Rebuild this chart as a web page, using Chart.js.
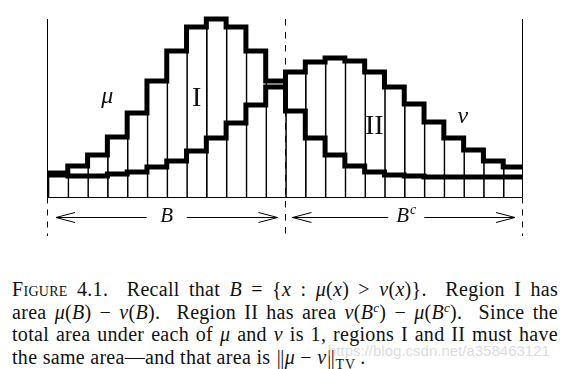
<!DOCTYPE html>
<html>
<head>
<meta charset="utf-8">
<script src="https://cdn.jsdelivr.net/npm/chart.js@4"></script>
<style>
  html, body { margin: 0; padding: 0; background: #fff; }
  body { width: 568px; height: 369px; position: relative; overflow: hidden; }
  #fig { position: absolute; left: 0; top: 0; }
  #caption {
    position: absolute; left: 12px; top: 278px; width: 546px;
    font: 20px 'Liberation Serif', serif; line-height: 22.5px; color: #111;
    letter-spacing: 0.3px;
  }
  #caption div { text-align: justify; text-align-last: justify; }
  #caption div.last { text-align: left; text-align-last: left; }
  .sc { font-variant: small-caps; }
  .norm { letter-spacing: -0.5px; margin: 0 1px; }
  sup { font-size: 13px; vertical-align: 7px; line-height: 0; }
  sub { font-size: 14px; vertical-align: -5px; line-height: 0; font-style: normal; letter-spacing: 1px; }
  #mark {
    position: absolute; left: 328px; top: 342px;
    font: 15px 'Liberation Sans', sans-serif; color: rgba(200, 200, 200, 0.65);
  }
</style>
</head>
<body>
<canvas id="fig" width="568" height="245"></canvas>
<div id="caption">
  <div><span class="sc">Figure</span> 4.1.&nbsp; Recall that <i>B</i> = {<i>x</i> : <i>μ</i>(<i>x</i>) &gt; <i>ν</i>(<i>x</i>)}.&nbsp; Region I has</div>
  <div>area <i>μ</i>(<i>B</i>) − <i>ν</i>(<i>B</i>).&nbsp; Region II has area <i>ν</i>(<i>B<sup>c</sup></i>) − <i>μ</i>(<i>B<sup>c</sup></i>).&nbsp; Since the</div>
  <div>total area under each of <i>μ</i> and <i>ν</i> is 1, regions I and II must have</div>
  <div class="last">the same area—and that area is&nbsp;<span class="norm">||</span><i>μ</i>&nbsp;−&nbsp;<i>ν</i><span class="norm">||</span><sub>TV</sub>&thinsp;.</div>
</div>
<div id="mark">https://blog.csdn.net/a358463121</div>
<script>
// States x = 0..23, first 12 make up B, the rest B^c
const states = [0, 1, 2, 3, 4, 5, 6, 7, 8, 9, 10, 11, 12, 13, 14, 15, 16, 17, 18, 19, 20, 21, 22, 23];
const splitAt = 12;

// Heights (arbitrary units, same for both)
const mu = [24, 31, 42, 60, 84, 116, 146, 170, 178, 170, 146, 116, 86, 59, 42, 31, 25, 22, 21, 20, 20, 20, 20, 20];
const nu = [22, 21, 21, 23, 25, 30, 36, 46, 59, 74, 92, 110, 125, 135, 139, 136, 125, 110, 93, 75, 59, 47, 36, 30];

// step line needs one extra point to close the last bin
function stepPoints(values) {
    const pts = values.map((v, i) => ({ x: states[i], y: v }));
    pts.push({ x: states.length, y: values[values.length - 1] });
    return pts;
}

// thin bin dividers reach up to the higher curve
const upper = mu.map((v, i) => Math.max(v, nu[i]));

function drawArrow(ctx, xa, xb, yy, mid, half) {
    ctx.beginPath();
    ctx.moveTo(xa, yy); ctx.lineTo(mid - half, yy);
    ctx.moveTo(mid + half, yy); ctx.lineTo(xb, yy);
    // open heads
    ctx.moveTo(xa + 19, yy - 5); ctx.lineTo(xa, yy); ctx.lineTo(xa + 19, yy + 5);
    ctx.moveTo(xb - 19, yy - 5); ctx.lineTo(xb, yy); ctx.lineTo(xb - 19, yy + 5);
    ctx.stroke();
}

const figurePlugin = {
    id: 'figure',
    beforeDatasetsDraw(chart) {
        const { ctx, scales: { x, y } } = chart;
        const cx = v => Math.round(x.getPixelForValue(v)) - 0.5;
        const top = y.getPixelForValue(178);
        const base = Math.round(y.getPixelForValue(0)) + 0.5;
        const bottom = y.getPixelForValue(-39);
        ctx.save();
        ctx.strokeStyle = '#000';
        ctx.lineWidth = 1;

        // baseline
        ctx.beginPath();
        ctx.moveTo(cx(0), base); ctx.lineTo(cx(states.length), base);
        ctx.stroke();

        // outer edges: solid above baseline, dashed below
        [0, states.length].forEach(v => {
            ctx.setLineDash([]);
            ctx.beginPath();
            ctx.moveTo(cx(v), top); ctx.lineTo(cx(v), base);
            ctx.stroke();
            ctx.setLineDash([6, 6]);
            ctx.beginPath();
            ctx.moveTo(cx(v), base); ctx.lineTo(cx(v), bottom);
            ctx.stroke();
        });

        // split between B and B^c
        ctx.setLineDash([6.5, 6.5]);
        ctx.beginPath();
        ctx.moveTo(cx(splitAt), top); ctx.lineTo(cx(splitAt), bottom);
        ctx.stroke();
        ctx.restore();
    },
    afterDatasetsDraw(chart) {
        const { ctx, scales: { x, y } } = chart;
        const px = v => x.getPixelForValue(v);
        const py = v => y.getPixelForValue(v);
        ctx.save();
        ctx.strokeStyle = '#000';
        ctx.fillStyle = '#111';
        ctx.lineWidth = 1;

        // arrows under each region
        const ay = Math.round(py(-19.7)) + 0.5;
        drawArrow(ctx, px(0) + 8, px(splitAt) - 8, ay, px(splitAt / 2), 20);
        drawArrow(ctx, px(splitAt) + 7, px(states.length) - 8, ay, px((splitAt + states.length) / 2) + 2, 18);

        ctx.textAlign = 'center';
        ctx.textBaseline = 'alphabetic';
        ctx.font = 'italic 21px "Liberation Serif"';
        ctx.fillText('B', px(splitAt / 2), py(-25));

        // B^c
        const bw = ctx.measureText('B').width;
        ctx.font = 'italic 14px "Liberation Serif"';
        const cw = ctx.measureText('c').width;
        const bx = px((splitAt + states.length) / 2) + 2 - (bw + cw + 1) / 2;
        ctx.textAlign = 'left';
        ctx.fillText('c', bx + bw + 1, py(-17));
        ctx.font = 'italic 21px "Liberation Serif"';
        ctx.fillText('B', bx, py(-25));

        // curve and region labels
        ctx.textAlign = 'center';
        ctx.font = 'italic 24px "Liberation Serif"';
        ctx.fillText('μ', px(3.0), py(93.7));
        ctx.fillText('ν', px(20.96), py(73.7));
        ctx.font = '28px "Liberation Serif"';
        ctx.fillText('I', px(7.51), py(91));
        ctx.fillText('II', px(16.49), py(62.7));
        ctx.restore();
    }
};

const ctx = document.getElementById('fig').getContext('2d');
new Chart(ctx, {
    type: 'line',
    data: {
        datasets: [
            {
                label: 'μ',
                data: stepPoints(mu),
                stepped: 'before',
                borderColor: '#000',
                borderWidth: 5,
                borderJoinStyle: 'miter',
                pointRadius: 0,
                fill: false,
                clip: false,
                order: 0
            },
            {
                label: 'ν',
                data: stepPoints(nu),
                stepped: 'before',
                borderColor: '#000',
                borderWidth: 5,
                borderJoinStyle: 'miter',
                pointRadius: 0,
                fill: false,
                clip: false,
                order: 1
            },
            {
                type: 'bar',
                label: 'bins',
                data: upper.map((v, i) => ({ x: states[i] + 0.5, y: v })),
                backgroundColor: 'rgba(0,0,0,0)',
                borderColor: '#000',
                borderWidth: { left: 1, right: 0, top: 0, bottom: 0 },
                borderSkipped: false,
                barPercentage: 1,
                categoryPercentage: 1,
                order: 2
            }
        ]
    },
    options: {
        responsive: false,
        animation: false,
        devicePixelRatio: 1,
        layout: { padding: { left: 48, right: 45, top: 19, bottom: 48 } },
        plugins: {
            legend: { display: false },
            tooltip: { enabled: false }
        },
        scales: {
            x: { type: 'linear', min: 0, max: states.length, offset: false, display: false },
            y: { min: 0, max: 178, display: false }
        }
    },
    plugins: [figurePlugin]
});
</script>
</body>
</html>
